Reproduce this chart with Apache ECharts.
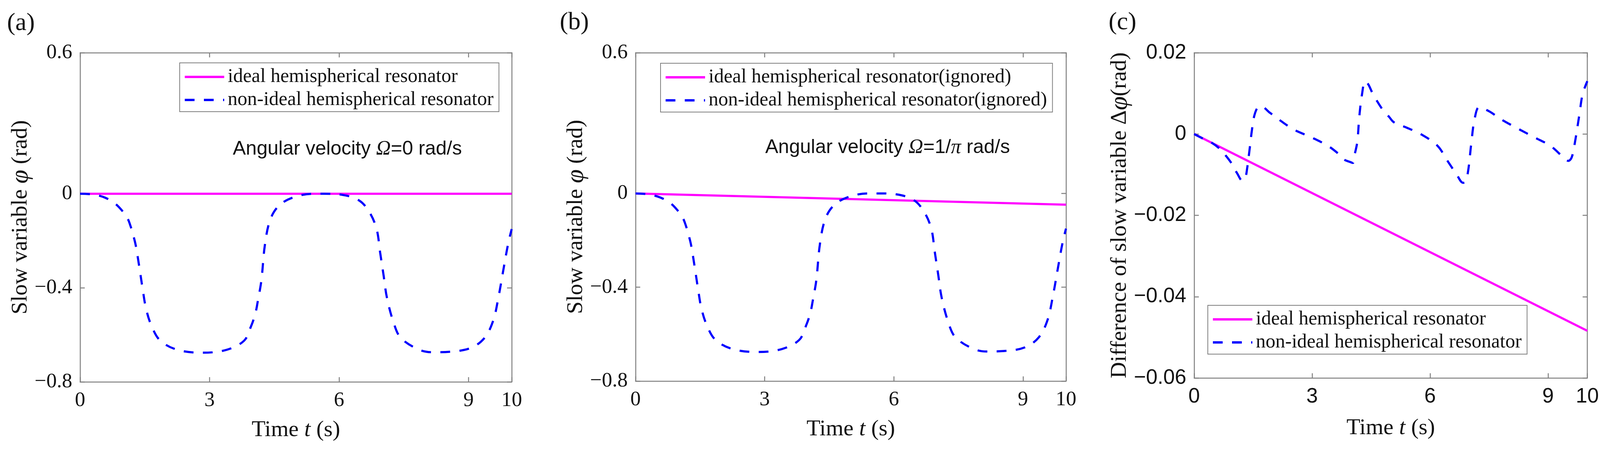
<!DOCTYPE html>
<html><head><meta charset="utf-8">
<script src="https://cdn.jsdelivr.net/npm/echarts@6/dist/echarts.min.js"></script>
<style>html,body{margin:0;padding:0;background:#fff;overflow:hidden;width:100%;height:100%}#c{width:100vw;height:100vh}</style>
</head><body><div id="c"></div>
<script>
// ---- tick labels ----
const timeTicks = [0, 3, 6, 9, 10];
const phiTicksAB = [-0.8, -0.4, 0, 0.6];
const dphiTicksC = [-0.06, -0.04, -0.02, 0, 0.02];

// ---- legend / series names ----
const namesAC = ['ideal hemispherical resonator', 'non-ideal hemispherical resonator'];
const namesB = ['ideal hemispherical resonator(ignored)', 'non-ideal hemispherical resonator(ignored)'];

// ---- ideal resonator ----
const tIdeal = [0, 10];
const phiIdealA = [0, 0];
const phiIdealB = [0, -0.048];
const dphiIdealC = [0, -0.0484];

// ---- non-ideal resonator, panel (a) ----
const tNonIdealA = [0, 0.3, 0.57, 0.8, 0.97, 1.1, 1.17, 1.23, 1.29, 1.37, 1.45, 1.53, 1.66, 1.86, 2.26, 2.83, 3.39, 3.8, 3.96, 4.06, 4.12, 4.2, 4.28, 4.4, 4.6, 4.93, 5.41, 5.65, 6.06, 6.46, 6.7, 6.87, 6.95, 7.03, 7.11, 7.27, 7.43, 7.84, 8.16, 8.56, 9.05, 9.37, 9.57, 9.69, 9.81, 9.92, 10];
const phiNonIdealA = [0, -0.003, -0.016, -0.04, -0.071, -0.105, -0.138, -0.175, -0.22, -0.309, -0.405, -0.49, -0.564, -0.625, -0.664, -0.676, -0.664, -0.625, -0.564, -0.51, -0.454, -0.369, -0.22, -0.113, -0.052, -0.016, 0, 0, -0.004, -0.028, -0.077, -0.15, -0.248, -0.345, -0.443, -0.552, -0.613, -0.662, -0.674, -0.672, -0.656, -0.613, -0.54, -0.443, -0.32, -0.21, -0.15];

// ---- non-ideal resonator, panel (b) ----
const tNonIdealB = [0, 0.3, 0.57, 0.8, 0.97, 1.1, 1.17, 1.23, 1.29, 1.37, 1.45, 1.53, 1.66, 1.86, 2.26, 2.83, 3.39, 3.8, 3.96, 4.06, 4.12, 4.2, 4.28, 4.4, 4.6, 4.93, 5.41, 5.65, 6.06, 6.46, 6.7, 6.87, 6.95, 7.03, 7.11, 7.27, 7.43, 7.84, 8.16, 8.56, 9.05, 9.37, 9.57, 9.69, 9.81, 9.92, 10];
const phiNonIdealB = [0, -0.004, -0.017, -0.04, -0.071, -0.105, -0.138, -0.175, -0.22, -0.309, -0.405, -0.49, -0.564, -0.625, -0.664, -0.676, -0.664, -0.625, -0.564, -0.51, -0.454, -0.369, -0.22, -0.113, -0.052, -0.016, 0, 0, -0.004, -0.028, -0.077, -0.15, -0.248, -0.345, -0.443, -0.552, -0.613, -0.662, -0.674, -0.672, -0.656, -0.613, -0.54, -0.443, -0.32, -0.21, -0.15];

// ---- non-ideal resonator, panel (c) ----
const tNonIdealC = [0, 0.2, 0.44, 0.66, 0.82, 0.95, 1.09, 1.23, 1.3, 1.34, 1.41, 1.47, 1.53, 1.62, 1.7, 1.93, 2.5, 3.0, 3.4, 3.65, 3.8, 4.0, 4.04, 4.08, 4.15, 4.2, 4.27, 4.35, 4.43, 4.55, 4.8, 4.96, 5.08, 5.37, 5.78, 6.19, 6.43, 6.68, 6.84, 6.9, 6.97, 7.05, 7.13, 7.25, 7.5, 7.83, 8.24, 8.65, 9.06, 9.39, 9.52, 9.6, 9.67, 9.8, 9.88, 10];
const dphiNonIdealC = [0, -0.001, -0.0021, -0.0037, -0.0055, -0.0072, -0.0096, -0.0115, -0.0108, -0.009, -0.0038, 0.001, 0.0045, 0.0066, 0.0068, 0.0052, 0.0013, -0.0009, -0.0029, -0.0047, -0.0062, -0.007, -0.0071, -0.0052, -0.0019, 0.0042, 0.0098, 0.013, 0.0122, 0.0098, 0.0059, 0.0042, 0.0029, 0.0017, -0.0001, -0.0029, -0.0064, -0.01, -0.012, -0.0118, -0.009, -0.0022, 0.0035, 0.0066, 0.0056, 0.0035, 0.0013, -0.0008, -0.0029, -0.0057, -0.0066, -0.0058, -0.0029, 0.0049, 0.0098, 0.013];

const SERIF = '"Liberation Serif","Times New Roman",serif';
const SANS = '"Liberation Sans",Arial,sans-serif';
const GRAY = '#808080';
const MAGENTA = '#ff00ff';
const BLUE = '#0000ff';

const zip = (xs, ys) => xs.map((x, i) => [x, ys[i]]);
const fmtTick = v => v === 0 ? '0' : (v < 0 ? '\u2212' : '') + String(Math.abs(v));

const grids = [
  { left: 205, top: 135, width: 1105, height: 843 },
  { left: 1627, top: 135, width: 1102, height: 841 },
  { left: 3057, top: 135, width: 1071, height: 833 }
];

const panelCfg = [
  { yMin: -0.8, yMax: 0.6, yTicks: phiTicksAB, tickFont: SERIF, yName: 'Slow variable {p|\u03c6} (rad)', yGap: 102, xGap: 95 },
  { yMin: -0.8, yMax: 0.6, yTicks: phiTicksAB, tickFont: SERIF, yName: 'Slow variable {p|\u03c6} (rad)', yGap: 102, xGap: 95 },
  { yMin: -0.06, yMax: 0.02, yTicks: dphiTicksC, tickFont: SANS, yName: 'Difference of slow variable \u0394{p|\u03c6}(rad)', yGap: 132, xGap: 100 }
];

const nameStyle = {
  fontFamily: SERIF, fontSize: 58, color: '#111',
  rich: {
    i: { fontFamily: SERIF, fontSize: 58, fontStyle: 'italic', color: '#111' },
    p: { fontFamily: SERIF, fontSize: 64, fontStyle: 'italic', color: '#111' }
  }
};

const tickStyle = { show: true, inside: true, length: 12, lineStyle: { color: GRAY, width: 2.5 } };
const lineAxis = { show: true, onZero: false, lineStyle: { color: GRAY, width: 2.5 } };

const xAxis = [], yAxis = [];
panelCfg.forEach((p, i) => {
  xAxis.push({
    type: 'value', gridIndex: i, position: 'bottom', min: 0, max: 10,
    axisLine: lineAxis,
    axisTick: Object.assign({ customValues: timeTicks }, tickStyle),
    axisLabel: { customValues: timeTicks, formatter: fmtTick, fontFamily: p.tickFont, fontSize: 53, color: '#111', margin: 22 },
    splitLine: { show: false },
    name: 'Time {i|t} (s)', nameLocation: 'middle', nameGap: p.xGap, nameTextStyle: nameStyle
  });
  xAxis.push({
    type: 'value', gridIndex: i, position: 'top', min: 0, max: 10,
    axisLine: lineAxis,
    axisTick: Object.assign({ customValues: timeTicks }, tickStyle),
    axisLabel: { show: false }, splitLine: { show: false }
  });
  yAxis.push({
    type: 'value', gridIndex: i, position: 'left', min: p.yMin, max: p.yMax,
    axisLine: lineAxis,
    axisTick: Object.assign({ customValues: p.yTicks }, tickStyle),
    axisLabel: { customValues: p.yTicks, formatter: fmtTick, fontFamily: p.tickFont, fontSize: 53, color: '#111', margin: 20 },
    splitLine: { show: false },
    name: p.yName, nameLocation: 'middle', nameGap: p.yGap, nameTextStyle: nameStyle
  });
  yAxis.push({
    type: 'value', gridIndex: i, position: 'right', min: p.yMin, max: p.yMax,
    axisLine: lineAxis,
    axisTick: Object.assign({ customValues: p.yTicks }, tickStyle),
    axisLabel: { show: false }, splitLine: { show: false }
  });
});

function lineSeries(name, idx, data, color, dashed) {
  return {
    type: 'line', name: name, xAxisIndex: 2 * idx, yAxisIndex: 2 * idx,
    data: data, showSymbol: false, symbol: 'none', smooth: dashed ? 0.35 : false,
    lineStyle: { color: color, width: 5.5, type: dashed ? [25, 24] : 'solid', cap: 'butt' },
    itemStyle: { color: color }, animation: false, silent: true, clip: true
  };
}

const series = [
  lineSeries(namesAC[0], 0, zip(tIdeal, phiIdealA), MAGENTA, false),
  lineSeries(namesAC[1], 0, zip(tNonIdealA, phiNonIdealA), BLUE, true),
  lineSeries(namesB[0], 1, zip(tIdeal, phiIdealB), MAGENTA, false),
  lineSeries(namesB[1], 1, zip(tNonIdealB, phiNonIdealB), BLUE, true),
  lineSeries(namesAC[0], 2, zip(tIdeal, dphiIdealC), MAGENTA, false),
  lineSeries(namesAC[1], 2, zip(tNonIdealC, dphiNonIdealC), BLUE, true)
];

const legendBase = {
  orient: 'vertical', itemWidth: 101, itemHeight: 14, itemGap: 9,
  padding: [11, 14, 5, 10], borderColor: GRAY, borderWidth: 2, backgroundColor: '#fff',
  textStyle: { fontFamily: SERIF, fontSize: 50, color: '#111', lineHeight: 50, padding: [0, 0, 0, 4] },
  lineStyle: { width: 6 }, itemStyle: { color: 'rgba(0,0,0,0)', borderWidth: 0, opacity: 0 },
  selectedMode: false
};

const legend = [
  Object.assign({}, legendBase, { left: 460, top: 161, data: namesAC }),
  Object.assign({}, legendBase, { left: 1691, top: 162, data: namesB }),
  Object.assign({}, legendBase, { left: 3092, top: 782, data: namesAC })
];

const annRich = {
  o: { fontFamily: SERIF, fontSize: 52, fontStyle: 'italic', fill: '#111' },
  q: { fontFamily: SERIF, fontSize: 52, fontStyle: 'italic', fill: '#111' }
};

const graphic = [
  { type: 'text', x: 18, y: 60, style: { text: '(a)', fontFamily: SERIF, fontSize: 64, fill: '#111', verticalAlign: 'middle' } },
  { type: 'text', x: 1433, y: 58, style: { text: '(b)', fontFamily: SERIF, fontSize: 64, fill: '#111', verticalAlign: 'middle' } },
  { type: 'text', x: 2838, y: 58, style: { text: '(c)', fontFamily: SERIF, fontSize: 64, fill: '#111', verticalAlign: 'middle' } },
  { type: 'text', x: 596, y: 382, style: { text: 'Angular velocity {o|\u03a9}=0 rad/s', fontFamily: SANS, fontSize: 50, fill: '#111', verticalAlign: 'middle', rich: annRich } },
  { type: 'text', x: 1959, y: 378, style: { text: 'Angular velocity {o|\u03a9}=1/{q|\u03c0} rad/s', fontFamily: SANS, fontSize: 50, fill: '#111', verticalAlign: 'middle', rich: annRich } }
];

const chart = echarts.init(document.getElementById('c'), null, { renderer: 'canvas' });
chart.setOption({
  backgroundColor: '#fff',
  animation: false,
  grid: grids.map(g => Object.assign({ show: false, containLabel: false }, g)),
  xAxis: xAxis, yAxis: yAxis, series: series, legend: legend, graphic: graphic
});
</script>
</body></html>
